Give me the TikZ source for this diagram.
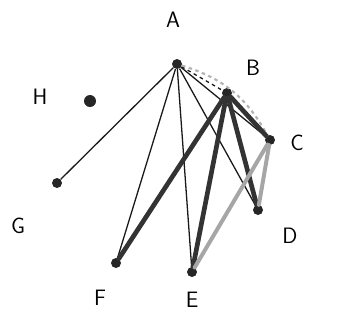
\documentclass[tikz,border=0pt]{standalone}
\usepackage{tikz}
\usetikzlibrary{positioning, arrows.meta}

\begin{document}
\begin{tikzpicture}[
  x=0.03cm, y=-0.03cm,
  vertex/.style={circle, fill=black!85, inner sep=0pt, minimum size=0.3cm},
  thinedge/.style={draw=black!90, line width=1.1pt},
  thickedge/.style={draw=black!80, line width=4pt, line cap=round},
  grayedge/.style={draw=gray!70, line width=3.4pt, line cap=round},
  label/.style={font=\sffamily\fontsize{19}{19}\selectfont}
]
  \useasboundingbox (0,0) rectangle (345,324);

  % vertices
  \node[vertex] (A) at (177,64) {};
  \node[vertex] (B) at (227,93) {};
  \node[vertex] (C) at (270,140) {};
  \node[vertex] (D) at (258,210) {};
  \node[vertex] (E) at (192,272) {};
  \node[vertex] (F) at (116,263) {};
  \node[vertex] (G) at (57,183) {};
  \node[vertex, minimum size=0.36cm] (H) at (90,101) {};

  % letters
  \node[label] (labelA) at (173,20) {A};
  \node[label] (labelB) at (253,68) {B};
  \node[label] (labelC) at (297,143) {C};
  \node[label] (labelD) at (290,236) {D};
  \node[label] (labelE) at (192,300) {E};
  \node[label] (labelF) at (100,298) {F};
  \node[label] (labelG) at (18,226) {G};
  \node[label] (labelH) at (40,97) {H};

  % edges from A
  \draw[thinedge, dashed] (A) -- (B);
  \draw[draw=gray!60, dashed, line width=1.8pt] (A) to[bend left=22] (C);
  \draw[thinedge] (A) -- (C);
  \draw[thinedge] (A) -- (D);
  \draw[thinedge] (A) -- (E);
  \draw[thinedge] (A) -- (F);
  \draw[thinedge] (A) -- (G);

  % edges from B
  \draw[thickedge] (B) -- (C);
  \draw[thickedge] (B) -- (D);
  \draw[thickedge] (B) -- (E);
  \draw[thickedge] (B) -- (F);

  % grey edges from C
  \draw[grayedge] (C) -- (D);
  \draw[grayedge] (C) -- (E);
\end{tikzpicture}
\end{document}
